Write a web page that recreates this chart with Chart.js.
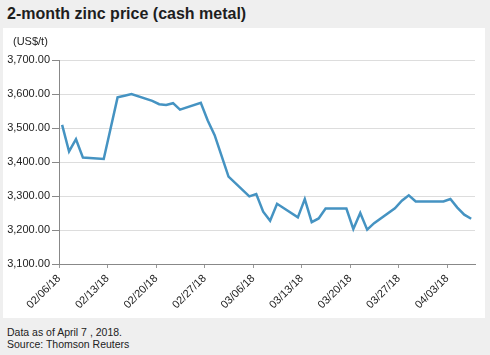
<!DOCTYPE html>
<html>
<head>
<meta charset="utf-8">
<script src="https://cdn.jsdelivr.net/npm/chart.js@4"></script>
<style>
  html, body { margin: 0; padding: 0; }
  body { width: 490px; height: 355px; background: #efefef; position: relative; overflow: hidden; font-family: "Liberation Sans", Arial, sans-serif; }
  #title { position: absolute; left: 7px; top: 6px; font-size: 16px; line-height: 16px; font-weight: bold; color: #1e1e1e; white-space: nowrap; }
  #panel { position: absolute; left: 3px; top: 28px; width: 482px; height: 290px; background: #ffffff; }
  #unit { position: absolute; left: 10px; top: 8px; font-size: 11px; line-height: 11px; color: #222; }
  #c { position: absolute; left: 0; top: 0; }
  .foot { position: absolute; left: 7px; font-size: 10.5px; line-height: 11px; color: #222; white-space: nowrap; }
</style>
</head>
<body>
<div id="title">2-month zinc price (cash metal)</div>
<div id="panel">
  <canvas id="c" width="482" height="290"></canvas>
  <div id="unit">(US$/t)</div>
</div>
<div class="foot" style="top:327px">Data as of April 7 , 2018.</div>
<div class="foot" style="top:339px">Source: Thomson Reuters</div>
<script>
// ---- data ----
const dates = [
  "2018-02-06","2018-02-07","2018-02-08","2018-02-09","2018-02-12","2018-02-13","2018-02-14","2018-02-15","2018-02-16",
  "2018-02-19","2018-02-20","2018-02-21","2018-02-22","2018-02-23","2018-02-26","2018-02-27","2018-02-28","2018-03-01","2018-03-02",
  "2018-03-05","2018-03-06","2018-03-07","2018-03-08","2018-03-09","2018-03-12","2018-03-13","2018-03-14","2018-03-15","2018-03-16",
  "2018-03-19","2018-03-20","2018-03-21","2018-03-22","2018-03-23","2018-03-26","2018-03-27","2018-03-28","2018-03-29",
  "2018-04-02","2018-04-03","2018-04-04","2018-04-05","2018-04-06"
];
const zincPrice = [
  3509,3431,3467,3413,3409,3499,3590,3595,3600,
  3580,3570,3568,3573,3554,3574,3522,3479,3418,3357,
  3299,3306,3254,3227,3277,3237,3291,3223,3234,3263,
  3263,3203,3250,3201,3220,3264,3286,3302,3284,
  3284,3291,3266,3245,3233
];
const xTickLabels = ["02/06/18","02/13/18","02/20/18","02/27/18","03/06/18","03/13/18","03/20/18","03/27/18","04/03/18"];
const yTickValues = [3100,3200,3300,3400,3500,3600,3700];

const startDate = Date.UTC(2018,1,6);
const DAY = 86400000;
const dayIndex = d => (Date.parse(d + "T00:00:00Z") - startDate) / DAY;
const points = dates.map((d,i) => ({ x: dayIndex(d) + 0.45, y: zincPrice[i] }));
const xTickDays = xTickLabels.map((l,i) => i * 7);

const fmt = v => v.toLocaleString("en-US", { minimumFractionDigits: 2, maximumFractionDigits: 2 });

new Chart(document.getElementById("c"), {
  type: "line",
  data: {
    datasets: [{
      data: points,
      borderColor: "#4593c2",
      borderWidth: 2.5,
      pointRadius: 0,
      tension: 0,
      fill: false
    }]
  },
  options: {
    responsive: false,
    animation: false,
    devicePixelRatio: 1,
    layout: { padding: { left: 0, right: 10, top: 32, bottom: 0 } },
    plugins: { legend: { display: false }, tooltip: { enabled: false } },
    scales: {
      x: {
        type: "linear",
        min: 0,
        max: 60,
        afterBuildTicks: s => { s.ticks = xTickDays.map(v => ({ value: v })); },
        afterFit: s => { s.height = 54; },
        ticks: {
          autoSkip: false,
          minRotation: 45,
          maxRotation: 45,
          padding: 4,
          color: "#222",
          font: { family: "'Liberation Sans', Arial, sans-serif", size: 11 },
          callback: v => xTickLabels[xTickDays.indexOf(v)]
        },
        grid: { drawOnChartArea: false, drawTicks: true, tickLength: 4, tickColor: "#999" },
        border: { color: "#888", width: 1 }
      },
      y: {
        min: 3100,
        max: 3700,
        afterBuildTicks: s => { s.ticks = yTickValues.map(v => ({ value: v })); },
        afterFit: s => { s.width = 56; },
        ticks: {
          padding: 2,
          color: "#222",
          font: { family: "'Liberation Sans', Arial, sans-serif", size: 11 },
          callback: v => fmt(v)
        },
        grid: { color: "#dddddd", lineWidth: 1, drawTicks: true, tickLength: 7, tickColor: "#888" },
        border: { color: "#888", width: 1 }
      }
    }
  }
});
</script>
</body>
</html>
